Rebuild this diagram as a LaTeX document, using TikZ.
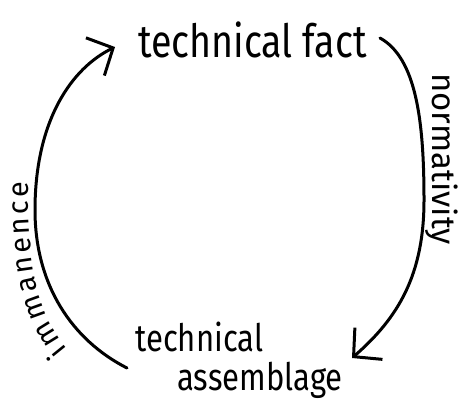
\documentclass[tikz,border=0pt]{standalone}
\usepackage{fontspec}
\setmainfont{Fira Sans}
\usetikzlibrary{arrows.meta,positioning,decorations.text}

\begin{document}
\begin{tikzpicture}[x=1bp,y=-1bp,
  term/.style={inner sep=0pt,xscale=0.82},
  label/.style={inner sep=0pt,font=\fontsize{33}{36}\selectfont},
  loop/.style={line width=3bp,line cap=round,
    -{Straight Barb[length=20bp,width=42bp]}}]
  \useasboundingbox (0,0) rectangle (459,403);
  \node[term,anchor=base west,font=\fontsize{46}{50}\selectfont] (fact) at (138,57)
    {technical fact};
  \node[term,align=left,font=\fontsize{38}{39}\selectfont] (assemblage) at (239,360)
    {technical\\\hspace*{51bp}assemblage};
  \coordinate (fact out) at (380,38);
  \coordinate (fact in) at (115,47);
  \coordinate (assemblage out) at (127,368);
  \coordinate (assemblage in) at (352,358);
  \draw[loop] (fact out) .. controls (416,58) and (424,120) .. (424,200)
    .. controls (424,275) and (398,318) .. (assemblage in);
  \draw[loop] (assemblage out) .. controls (72,340) and (35,285) .. (35,210)
    .. controls (35,120) and (72,68) .. (fact in);
  \node[label,rotate=-90,anchor=base west] (norm) at (432,73) {normativity};
  % left label follows the curve of the arc
  \path[decorate,decoration={text along path,text align={fit to path},
    text={|\fontsize{29}{30}\selectfont|immanence}}]
    (68,349) .. controls (42,318) and (28,285) .. (28,182);
\end{tikzpicture}
\end{document}
